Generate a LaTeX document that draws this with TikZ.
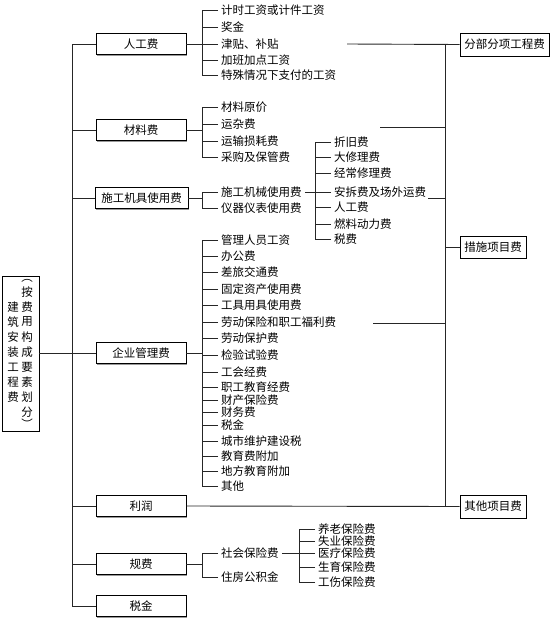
\documentclass[tikz,border=0pt]{standalone}
\usepackage{fontspec}
\setmainfont{Noto Sans CJK SC}
\usetikzlibrary{shadows}
\begin{document}
\begin{tikzpicture}[x=1pt,y=-1pt,
  every node/.style={font=\fontsize{11.5}{12}\selectfont},
  wire/.style={line width=0.9pt, draw=black!85},
  catbox/.style={draw=black, line width=0.8pt, fill=white, minimum height=21pt, inner sep=0pt,
    drop shadow={shadow xshift=1.2pt, shadow yshift=-1.2pt, fill=black!40, opacity=1}},
  item/.style={anchor=west, inner xsep=3pt, inner ysep=0pt},
  glyph/.style={inner sep=0pt}]
\useasboundingbox (0,0) rectangle (554,624);

% root box
\node[catbox, minimum width=37pt, minimum height=155pt] (root) at (20.5,353.5) {};
\foreach \c [count=\i from 0] in {建,筑,安,装,工,程,费}
  \node[glyph] (L\i) at (13,307+15*\i) {\c};
\foreach \c [count=\i from 0] in {按,费,用,构,成,要,素,划,分}
  \node[glyph] (R\i) at (27,292+15*\i) {\c};
\node[glyph] (Ropen) at (27,281) {︵};
\node[glyph] (Rclose) at (27,424) {︶};

% level-1 boxes
\node[catbox, minimum width=90pt] (ren) at (141,44) {人工费};
\node[catbox, minimum width=90pt] (cai) at (141,130) {材料费};
\node[catbox, minimum width=93pt] (jiju) at (141.5,198) {施工机具使用费};
\node[catbox, minimum width=90pt] (qiye) at (141,353) {企业管理费};
\node[catbox, minimum width=90pt] (lirun) at (141,506) {利润};
\node[catbox, minimum width=90pt] (gui) at (141,564) {规费};
\node[catbox, minimum width=90pt] (shui) at (141,606) {税金};

% right boxes
\node[catbox, minimum width=89pt, minimum height=23pt] (fbfx) at (504.5,44.5) {分部分项工程费};
\node[catbox, minimum width=66pt, minimum height=22pt] (cs) at (493,247) {措施项目费};
\node[catbox, minimum width=66pt, minimum height=23pt] (qt) at (493,506.5) {其他项目费};

% trunk
\coordinate (trunk) at (72,0);
\draw[wire] (ren.west -| trunk) -- (shui.west -| trunk);
\draw[wire] (root.east) -- (root.east -| trunk);
\foreach \b in {ren,cai,jiju,qiye,lirun,gui,shui}
  \draw[wire] (\b.west) -- (\b.west -| trunk);

% bracket columns
\coordinate (b1) at (202,0);
\coordinate (b2) at (315,0);
\coordinate (b3) at (299,0);

% 人工费
\foreach \t/\y [count=\i] in {计时工资或计件工资/10, 奖金/27, 津贴、补贴/44, 加班加点工资/60, 特殊情况下支付的工资/75}{
  \node[item] (ra\i) at (218,\y) {\t};
  \draw[wire] (ra\i.west) -- (ra\i.west -| b1);
}
\draw[wire] (ra1.west -| b1) -- (ra5.west -| b1);
\draw[wire] (ren.east) -- (ren.east -| b1);

% 材料费
\foreach \t/\y [count=\i] in {材料原价/107, 运杂费/124, 运输损耗费/141, 采购及保管费/157}{
  \node[item] (cl\i) at (218,\y) {\t};
  \draw[wire] (cl\i.west) -- (cl\i.west -| b1);
}
\draw[wire] (cl1.west -| b1) -- (cl4.west -| b1);
\draw[wire] (cai.east) -- (cai.east -| b1);

% 施工机具使用费
\foreach \t/\y [count=\i] in {施工机械使用费/192, 仪器仪表使用费/208}{
  \node[item] (jj\i) at (218,\y) {\t};
  \draw[wire] (jj\i.west) -- (jj\i.west -| b1);
}
\draw[wire] (jj1.west -| b1) -- (jj2.west -| b1);
\draw[wire] (jiju.east) -- (jiju.east -| b1);

% 施工机械使用费 detail
\foreach \t/\y [count=\i] in {折旧费/142, 大修理费/157, 经常修理费/173, 安拆费及场外运费/192, 人工费/207, 燃料动力费/224, 税费/239}{
  \node[item] (jx\i) at (331,\y) {\t};
  \draw[wire] (jx\i.west) -- (jx\i.west -| b2);
}
\draw[wire] (jx1.west -| b2) -- (jx7.west -| b2);
\draw[wire] (jj1.east) -- (jj1.east -| b2);

% 企业管理费
\foreach \t/\y [count=\i] in {管理人员工资/240, 办公费/256, 差旅交通费/272, 固定资产使用费/289, 工具用具使用费/305, 劳动保险和职工福利费/322, 劳动保护费/338, 检验试验费/355, 工会经费/372, 职工教育经费/387, 财产保险费/400, 财务费/412, 税金/425, 城市维护建设税/441, 教育费附加/456, 地方教育附加/471, 其他/486}{
  \node[item] (qy\i) at (218,\y) {\t};
  \draw[wire] (qy\i.west) -- (qy\i.west -| b1);
}
\draw[wire] (qy1.west -| b1) -- (qy17.west -| b1);
\draw[wire] (qiye.east) -- (qiye.east -| b1);

% 规费
\foreach \t/\y [count=\i] in {社会保险费/553, 住房公积金/577}{
  \node[item] (gf\i) at (218,\y) {\t};
  \draw[wire] (gf\i.west) -- (gf\i.west -| b1);
}
\draw[wire] (gf1.west -| b1) -- (gf2.west -| b1);
\draw[wire] (gui.east) -- (gui.east -| b1);

% 社会保险费 detail
\foreach \t/\y [count=\i] in {养老保险费/529, 失业保险费/541, 医疗保险费/553, 生育保险费/567, 工伤保险费/582}{
  \node[item] (sb\i) at (315,\y) {\t};
  \draw[wire] (sb\i.west) -- (sb\i.west -| b3);
}
\draw[wire] (sb1.west -| b3) -- (sb5.west -| b3);
\draw[wire] (gf1.east) -- (gf1.east -| b3);

% right spine
\coordinate (sp) at (445,0);
\coordinate (f1) at (347,44);
\coordinate (f2) at (380,127);
\coordinate (f3) at (428,198);
\coordinate (f4) at (373,323);
\draw[wire] (f1) -- (fbfx.west);
\draw[wire] (fbfx.west -| sp) -- (qt.west -| sp);
\draw[wire] (cs.west -| sp) -- (cs.west);
\draw[wire] (f2) -- (f2 -| sp);
\draw[wire] (f3) -- (f3 -| sp);
\draw[wire] (f4) -- (f4 -| sp);
\draw[wire] (lirun.east) -- (qt.west);
\end{tikzpicture}
\end{document}
